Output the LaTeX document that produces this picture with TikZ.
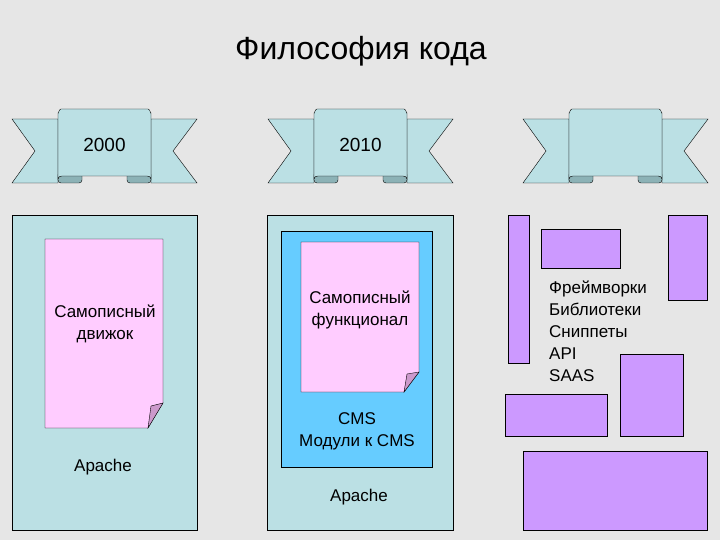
\documentclass[tikz,border=0pt]{standalone}
\usepackage{fontspec}
\setmainfont{Liberation Sans}
\usetikzlibrary{positioning}

\definecolor{ribbonfill}{RGB}{187,224,228}
\definecolor{curlfill}{RGB}{140,178,182}
\definecolor{pagefill}{RGB}{255,204,255}
\definecolor{foldfill}{RGB}{204,153,204}
\definecolor{cmsfill}{RGB}{102,204,255}
\definecolor{blockfill}{RGB}{204,153,255}
\definecolor{bgfill}{RGB}{230,230,230}

\tikzset{
  panel/.style={draw, fill=ribbonfill, anchor=north west, inner sep=0pt},
  block/.style={draw, fill=blockfill, anchor=north west, inner sep=0pt},
  label/.style={font=\fontsize{17}{22}\selectfont, align=center, inner sep=0pt},
  year/.style={font=\fontsize{19}{22}\selectfont, inner sep=0pt},
}

% ribbon banner, #1 = left offset, #2 = name
\newcommand{\banner}[2]{
  \begin{scope}[xshift=#1]
    \draw[fill=ribbonfill] (12,119) -- (58,119) -- (58,183) -- (12,183) -- (35,151) -- cycle;
    \draw[fill=ribbonfill] (151,119) -- (197,119) -- (173,151) -- (197,183) -- (151,183) -- cycle;
    \draw[fill=curlfill, rounded corners=3pt] (58,172) rectangle (82,183);
    \draw[fill=curlfill, rounded corners=3pt] (127,172) rectangle (151,183);
    \draw[fill=ribbonfill] (58,179) -- (58,113) to[out=-90,in=180] (61,109) -- (148,109) to[out=0,in=-90] (151,113)
      -- (151,179) to[out=90,in=0] (147,176) -- (62,176) to[out=180,in=90] (58,179) -- cycle;
    \coordinate (#2) at (104.5,145);
  \end{scope}
}

\begin{document}
\begin{tikzpicture}[x=1pt, y=-1pt]
  \useasboundingbox (0,0) rectangle (720,540);
  \fill[bgfill] (0,0) rectangle (720,540);

  % Title
  \node[font=\fontsize{32}{36}\selectfont] (title) at (361,51) {Философия кода};

  % Banners
  \banner{0}{b1}
  \banner{256}{b2}
  \banner{511}{b3}
  \node[year] (y1) at (b1) {2000};
  \node[year] (y2) at (b2) {2010};

  % Left column
  \node[panel, minimum width=185, minimum height=315] (p1) at (12,215) {};
  \draw[fill=pagefill] (45,239) -- (163,239) -- (163,403) -- (148,428) -- (45,428) -- cycle;
  \draw[fill=foldfill] (163,403) -- (148,428) -- (151,406) -- cycle;
  \node[label] (t1) at (105,324) {Самописный\\движок};
  \node[label] (a1) at (103,467) {Apache};

  % Middle column
  \node[panel, minimum width=186, minimum height=315] (p2) at (267,215) {};
  \node[draw, fill=cmsfill, anchor=north west, inner sep=0pt, minimum width=151, minimum height=236] (cms) at (281,231) {};
  \draw[fill=pagefill] (301,242) -- (419,242) -- (419,372) -- (404,392) -- (301,392) -- cycle;
  \draw[fill=foldfill] (419,372) -- (404,392) -- (407,374) -- cycle;
  \node[label] (t2) at (360,310) {Самописный\\функционал};
  \node[label] (t3) at (357,431) {CMS\\Модули к CMS};
  \node[label] (a2) at (359,497) {Apache};

  % Right column
  \node[block, minimum width=21, minimum height=148] (r1) at (508,215) {};
  \node[block, minimum width=79, minimum height=39] (r2) at (541,229) {};
  \node[block, minimum width=39, minimum height=85] (r3) at (668,215) {};
  \node[block, minimum width=63, minimum height=82] (r4) at (620,354) {};
  \node[block, minimum width=102, minimum height=42] (r5) at (505,394) {};
  \node[block, minimum width=184, minimum height=79] (r6) at (523,451) {};
  \node[label, align=left, anchor=north west] (list) at (549,281) {Фреймворки\\Библиотеки\\Сниппеты\\API\\SAAS};
\end{tikzpicture}
\end{document}
